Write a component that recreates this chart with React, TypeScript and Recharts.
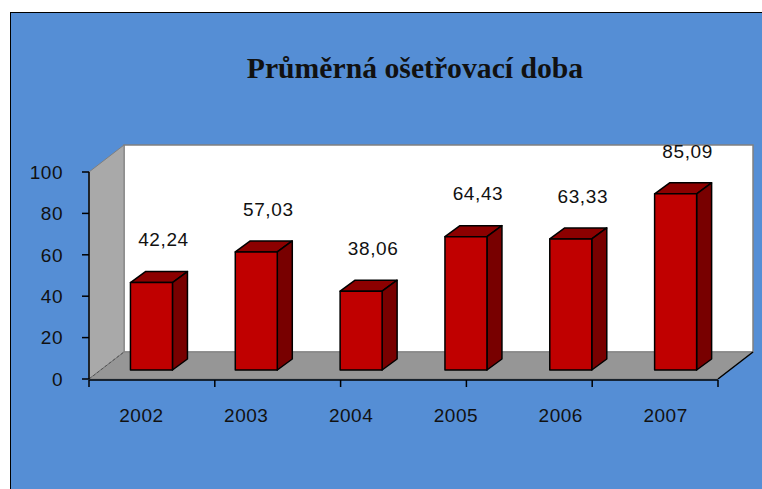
import React from 'react';
import { BarChart, Bar, XAxis, YAxis, ReferenceArea, LabelList } from 'recharts';

const years = ['2002', '2003', '2004', '2005', '2006', '2007'];
const values = [42.24, 57.03, 38.06, 64.43, 63.33, 85.09];
const yTicks = [0, 20, 40, 60, 80, 100];
const edgeTicks = [0, 1, 2, 3, 4, 5, 6];
const title = 'Průměrná ošetřovací doba';

const data = years.map((year, i) => ({ year, value: values[i] }));

const BAR_SHIFT = { x: 10, y: -9 };
const BAR_DEPTH = { x: 15, y: -11 };
const WALL_DEPTH = { x: 35, y: -27 };
const LABEL_OFFSET = { x: 12, y: -43 };

const AXIS_FONT = {
  fill: '#111',
  fontSize: 19,
  fontFamily: 'Liberation Sans, Arial, sans-serif',
  letterSpacing: 0.5,
};

const Walls = (props: any) => {
  const { x, y, width, height } = props;
  const dx = WALL_DEPTH.x;
  const dy = WALL_DEPTH.y;
  const b = y + height;
  return (
    <g>
      <rect x={x + dx} y={y + dy} width={width} height={height} fill="#ffffff" stroke="#808080" strokeWidth={1.5} />
      <polygon
        points={`${x},${y} ${x + dx},${y + dy} ${x + dx},${b + dy} ${x},${b}`}
        fill="#a9a9a9"
        stroke="#808080"
        strokeWidth={1}
      />
      <polygon
        points={`${x},${b} ${x + dx},${b + dy} ${x + width + dx},${b + dy} ${x + width},${b}`}
        fill="#969696"
        stroke="#808080"
        strokeWidth={1}
      />
      <line x1={x} y1={b} x2={x + dx} y2={b + dy} stroke="#555" strokeDasharray="3 2" />
      <line x1={x + width} y1={b} x2={x + width + dx} y2={b + dy} stroke="#000" strokeWidth={1.5} />
    </g>
  );
};

const Bar3D = (props: any) => {
  const { x, y, width, height } = props;
  const fx = x + BAR_SHIFT.x;
  const fy = y + BAR_SHIFT.y;
  const w = width;
  const h = height;
  const dx = BAR_DEPTH.x;
  const dy = BAR_DEPTH.y;
  return (
    <g stroke="#000" strokeWidth={1.5} strokeLinejoin="round">
      <polygon points={`${fx},${fy} ${fx + dx},${fy + dy} ${fx + w + dx},${fy + dy} ${fx + w},${fy}`} fill="#8c0000" />
      <polygon
        points={`${fx + w},${fy} ${fx + w + dx},${fy + dy} ${fx + w + dx},${fy + h + dy} ${fx + w},${fy + h}`}
        fill="#780000"
      />
      <rect x={fx} y={fy} width={w} height={h} fill="#c00000" />
    </g>
  );
};

const ValueLabel = (props: any) => {
  const { x, y, width, value } = props;
  const cx = x + width / 2 + BAR_SHIFT.x + LABEL_OFFSET.x;
  const cy = y + BAR_SHIFT.y + LABEL_OFFSET.y;
  return (
    <text
      x={cx}
      y={cy}
      dy="0.36em"
      textAnchor="middle"
      fill="#111"
      fontSize={19}
      letterSpacing={0.6}
      fontFamily="Liberation Sans, Arial, sans-serif"
    >
      {Number(value).toFixed(2).replace('.', ',')}
    </text>
  );
};

export default function App() {
  return (
    <div
      style={{
        position: 'absolute',
        left: 10,
        top: 12,
        width: 780,
        height: 500,
        boxSizing: 'border-box',
        borderLeft: '1px solid #000',
        borderTop: '1px solid #000',
        background: '#558ed5',
        overflow: 'hidden',
      }}
    >
      <style>{'html, body { overflow: hidden; }'}</style>
      <div
        style={{
          position: 'absolute',
          left: 104,
          width: 600,
          top: 38,
          height: 34,
          lineHeight: '34px',
          textAlign: 'center',
          fontFamily: 'Liberation Serif, Times New Roman, serif',
          fontWeight: 'bold',
          fontSize: 29.7,
          color: '#111',
        }}
      >
        {title}
      </div>
      <BarChart
        width={751}
        height={476}
        data={data}
        margin={{ top: 159, right: 44, bottom: 108, left: 0 }}
        barCategoryGap="30%"
      >
        <ReferenceArea y1={0} y2={100} shape={(p: any) => <Walls {...p} />} ifOverflow="visible" />
        <YAxis
          domain={[0, 100]}
          ticks={yTicks}
          width={78}
          tickSize={7}
          tickMargin={19}
          interval={0}
          axisLine={{ stroke: '#000', strokeWidth: 1.5 }}
          tickLine={{ stroke: '#000', strokeWidth: 1.5 }}
          tick={AXIS_FONT}
        />
        <XAxis
          dataKey="year"
          height={1}
          axisLine={false}
          tickLine={false}
          tickSize={0}
          tickMargin={30}
          interval={0}
          tick={AXIS_FONT}
        />
        <XAxis
          xAxisId="edges"
          type="number"
          domain={[0, 6]}
          ticks={edgeTicks}
          interval={0}
          allowDataOverflow
          height={1}
          tickSize={7}
          tickFormatter={() => ''}
          axisLine={{ stroke: '#000', strokeWidth: 1.5 }}
          tickLine={{ stroke: '#000', strokeWidth: 1.5 }}
        />
        <Bar dataKey="value" isAnimationActive={false} shape={(p: any) => <Bar3D {...p} />}>
          <LabelList dataKey="value" content={(p: any) => <ValueLabel {...p} />} />
        </Bar>
      </BarChart>
    </div>
  );
}
